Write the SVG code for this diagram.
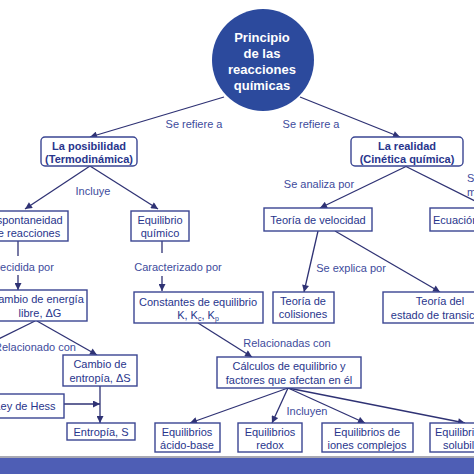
<svg xmlns="http://www.w3.org/2000/svg" width="474" height="474" viewBox="0 0 474 474">
<defs>
<style>
.box{fill:#fff;stroke:#3a4592;stroke-width:1.4}
.t{font-family:"Liberation Sans",Arial,sans-serif;font-size:11px;fill:#28358c;text-anchor:middle}
.b{font-weight:bold}
.lbl{font-family:"Liberation Sans",Arial,sans-serif;font-size:11px;fill:#3d4b9c;text-anchor:middle}
.c{stroke:#2f3274;stroke-width:1.3;fill:none}
.title{font-family:"Liberation Sans",Arial,sans-serif;font-size:13px;font-weight:bold;fill:#fff;text-anchor:middle}
</style>
<marker id="ah" viewBox="0 0 10 10" refX="10" refY="5" markerWidth="8" markerHeight="7" markerUnits="userSpaceOnUse" orient="auto">
<path d="M0,0 L10,5 L0,10 z" fill="#2f3274"/>
</marker>
</defs>
<rect width="474" height="474" fill="#fff"/>
<g id="connectors">
<line class="c" x1="224" y1="97" x2="90" y2="137" marker-end="url(#ah)"/>
<line class="c" x1="300" y1="97" x2="400" y2="137" marker-end="url(#ah)"/>
<line class="c" x1="90" y1="166" x2="25" y2="209" marker-end="url(#ah)"/>
<line class="c" x1="90" y1="166" x2="158" y2="209" marker-end="url(#ah)"/>
<line class="c" x1="18" y1="241" x2="18" y2="256"/>
<line class="c" x1="18" y1="275" x2="18" y2="290" marker-end="url(#ah)"/>
<line class="c" x1="162" y1="241" x2="162" y2="253"/>
<line class="c" x1="162" y1="276" x2="162" y2="291" marker-end="url(#ah)"/>
<line class="c" x1="35" y1="321" x2="-20" y2="348"/>
<line class="c" x1="37" y1="321" x2="97" y2="355" marker-end="url(#ah)"/>
<line class="c" x1="100" y1="386" x2="100" y2="423" marker-end="url(#ah)"/>
<line class="c" x1="64" y1="404" x2="100" y2="404" marker-end="url(#ah)"/>
<line class="c" x1="198" y1="323" x2="252" y2="357" marker-end="url(#ah)"/>
<line class="c" x1="288" y1="388" x2="190" y2="423" marker-end="url(#ah)"/>
<line class="c" x1="288" y1="388" x2="272" y2="423" marker-end="url(#ah)"/>
<line class="c" x1="288" y1="388" x2="365" y2="423" marker-end="url(#ah)"/>
<line class="c" x1="288" y1="388" x2="465" y2="423" marker-end="url(#ah)"/>
<line class="c" x1="407" y1="166" x2="320" y2="208" marker-end="url(#ah)"/>
<line class="c" x1="405" y1="166" x2="485" y2="206"/>
<line class="c" x1="318" y1="231" x2="304" y2="292" marker-end="url(#ah)"/>
<line class="c" x1="335" y1="231" x2="440" y2="292" marker-end="url(#ah)"/>
</g>
<g id="labels">
<text class="lbl" x="194" y="128">Se refiere a</text>
<text class="lbl" x="311" y="128">Se refiere a</text>
<text class="lbl" x="93" y="195">Incluye</text>
<text class="lbl" x="23" y="271">Decidida por</text>
<text class="lbl" x="178" y="271">Caracterizado por</text>
<text class="lbl" x="35" y="351">Relacionado con</text>
<text class="lbl" x="287" y="347">Relacionadas con</text>
<text class="lbl" x="307" y="415">Incluyen</text>
<text class="lbl" x="319" y="188">Se analiza por</text>
<text class="lbl" x="351" y="272">Se explica por</text>
<text class="lbl" x="467" y="182" style="text-anchor:start">S</text>
<text class="lbl" x="467" y="196" style="text-anchor:start">m</text>
</g>
<g id="principio">
<circle cx="263" cy="60" r="51" fill="#2c4a9d"/>
<text class="title" x="262" y="42">Principio</text>
<text class="title" x="262" y="58">de las</text>
<text class="title" x="262" y="74">reacciones</text>
<text class="title" x="262" y="90">químicas</text>
</g>
<g id="posibilidad">
<rect class="box" x="41" y="137" width="96" height="29" rx="4"/>
<text class="t b" x="89" y="150">La posibilidad</text>
<text class="t b" x="89" y="163">(Termodinámica)</text>
</g>
<g id="realidad">
<rect class="box" x="351" y="137" width="112" height="29" rx="4"/>
<text class="t b" x="407" y="150">La realidad</text>
<text class="t b" x="407" y="163">(Cinética química)</text>
</g>
<g id="espontaneidad">
<rect class="box" x="-16" y="211" width="84" height="30"/>
<text class="t" x="26" y="224">Espontaneidad</text>
<text class="t" x="26" y="237">de reacciones</text>
</g>
<g id="equilibrio">
<rect class="box" x="131" y="211" width="58" height="30"/>
<text class="t" x="160" y="224">Equilibrio</text>
<text class="t" x="160" y="237">químico</text>
</g>
<g id="energia">
<rect class="box" x="-10" y="290" width="97" height="31"/>
<text class="t" x="37" y="303">Cambio de energía</text>
<text class="t" x="40" y="317">libre, ΔG</text>
</g>
<g id="constantes">
<rect class="box" x="134" y="292" width="129" height="31"/>
<text class="t" x="198" y="306">Constantes de equilibrio</text>
<text class="t" x="198" y="319">K, K<tspan font-size="7" dy="2">c</tspan><tspan dy="-2">, K</tspan><tspan font-size="7" dy="2">p</tspan></text>
</g>
<g id="entropia-cambio">
<rect class="box" x="63" y="355" width="74" height="31"/>
<text class="t" x="100" y="368">Cambio de</text>
<text class="t" x="100" y="382">entropía, ΔS</text>
</g>
<g id="hess">
<rect class="box" x="-20" y="394" width="84" height="24"/>
<text class="t" x="25" y="410">Ley de Hess</text>
</g>
<g id="entropia">
<rect class="box" x="67" y="423" width="68" height="17"/>
<text class="t" x="101" y="436">Entropía, S</text>
</g>
<g id="calculos">
<rect class="box" x="217" y="357" width="144" height="31"/>
<text class="t" x="289" y="370">Cálculos de equilibrio y</text>
<text class="t" x="289" y="384">factores que afectan en él</text>
</g>
<g id="acidobase">
<rect class="box" x="155" y="423" width="65" height="29"/>
<text class="t" x="187" y="436">Equilibrios</text>
<text class="t" x="187" y="449">ácido-base</text>
</g>
<g id="redox">
<rect class="box" x="238" y="423" width="64" height="29"/>
<text class="t" x="270" y="436">Equilibrios</text>
<text class="t" x="270" y="449">redox</text>
</g>
<g id="complejos">
<rect class="box" x="322" y="423" width="91" height="29"/>
<text class="t" x="367" y="436">Equilibrios de</text>
<text class="t" x="367" y="449">iones complejos</text>
</g>
<g id="solubilidad">
<rect class="box" x="430" y="423" width="80" height="29"/>
<text class="t" x="435" y="436" style="text-anchor:start">Equilibrios de</text>
<text class="t" x="443" y="449" style="text-anchor:start">solubilidad</text>
</g>
<g id="velocidad">
<rect class="box" x="264" y="208" width="108" height="23"/>
<text class="t" x="318" y="224">Teoría de velocidad</text>
</g>
<g id="ecuacion">
<rect class="box" x="430" y="208" width="110" height="23"/>
<text class="t" x="433" y="224" style="text-anchor:start">Ecuación de velocidad</text>
</g>
<g id="colisiones">
<rect class="box" x="273" y="292" width="61" height="31"/>
<text class="t" x="303" y="305">Teoría de</text>
<text class="t" x="303" y="318">colisiones</text>
</g>
<g id="transicion">
<rect class="box" x="383" y="292" width="115" height="31"/>
<text class="t" x="440" y="305">Teoría del</text>
<text class="t" x="440" y="319">estado de transición</text>
</g>
<line x1="0" y1="457" x2="474" y2="457" stroke="#8c8c9a" stroke-width="1.5"/>
<rect x="0" y="458" width="474" height="16" fill="#4e5eb5"/>
</svg>
